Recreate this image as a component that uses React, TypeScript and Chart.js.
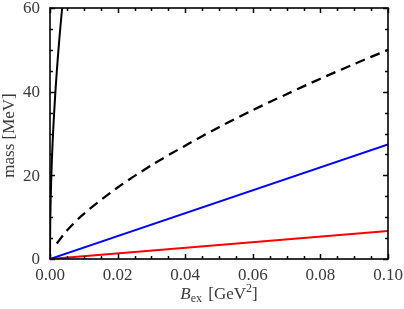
import React, { useEffect, useRef } from "react";
import { Chart, registerables } from "chart.js";

Chart.register(...registerables);

// Data
const steepX = [0, 0.00005, 0.0001, 0.0002, 0.0004, 0.0007, 0.001, 0.0015, 0.002, 0.0025, 0.003, 0.0036, 0.004];
const steepY = [0, 7.1, 10, 14.1, 20, 26.5, 31.6, 38.7, 44.7, 50, 54.8, 60, 63.2];

const dashedX = [0.002, 0.005, 0.01, 0.02, 0.03, 0.04, 0.05, 0.06, 0.07, 0.08, 0.09, 0.1];
const dashedY = [3.7, 6.8, 10.8, 17.1, 22.4, 27.1, 31.5, 35.6, 39.4, 43.1, 46.6, 50];

const blueX = [0, 0.1];
const blueY = [0, 27.4];

const redX = [0, 0.1];
const redY = [0, 6.7];

const xTickLabels = ["0.00", "0.02", "0.04", "0.06", "0.08", "0.10"];
const yTickLabels = ["0", "20", "40", "60"];

const FONT = "'Liberation Serif', 'DejaVu Serif', serif";

const pts = (xs: number[], ys: number[]) => xs.map((x, i) => ({ x, y: ys[i] }));

const framePlugin = {
  id: "frameTicks",
  afterDraw(chart: any) {
    const { ctx, chartArea: a, scales } = chart;
    const xs = scales.x;
    const ys = scales.y;
    ctx.save();
    ctx.strokeStyle = "#000";
    ctx.lineWidth = 1.5;
    ctx.beginPath();
    for (let i = 0; i <= 20; i++) {
      const v = i * 0.005;
      const px = Math.round(xs.getPixelForValue(v)) + 0.5;
      const len = i % 4 === 0 ? 5 : 3;
      ctx.moveTo(px, a.bottom);
      ctx.lineTo(px, a.bottom - len);
      ctx.moveTo(px, a.top);
      ctx.lineTo(px, a.top + len);
    }
    for (let i = 0; i <= 12; i++) {
      const v = i * 5;
      const py = Math.round(ys.getPixelForValue(v)) + 0.5;
      const len = i % 4 === 0 ? 5 : 3;
      ctx.moveTo(a.left, py);
      ctx.lineTo(a.left + len, py);
      ctx.moveTo(a.right, py);
      ctx.lineTo(a.right - len, py);
    }
    ctx.stroke();
    ctx.lineWidth = 1.6;
    ctx.strokeRect(a.left, a.top, a.right - a.left, a.bottom - a.top);

    // tick labels
    ctx.fillStyle = "#3a3a3a";
    ctx.font = `17px ${FONT}`;
    ctx.textAlign = "center";
    ctx.textBaseline = "middle";
    xTickLabels.forEach((t) => {
      const px = xs.getPixelForValue(parseFloat(t));
      ctx.fillText(t, px, 276);
    });
    ctx.textAlign = "right";
    yTickLabels.forEach((t) => {
      const py = ys.getPixelForValue(parseFloat(t));
      ctx.fillText(t, a.left - 10, py + 1);
    });

    // y title
    ctx.save();
    ctx.translate(10, (a.top + a.bottom) / 2 + 2);
    ctx.rotate(-Math.PI / 2);
    ctx.textAlign = "center";
    ctx.fillText("mass [MeV]", 0, 0);
    ctx.restore();

    // x title: B_ex [GeV^2]
    ctx.textBaseline = "alphabetic";
    ctx.textAlign = "left";
    const base = 299;
    const partB = "B";
    const partSub = "ex";
    const partMid = " [GeV";
    const partSup = "2";
    const partEnd = "]";
    ctx.font = `italic 17px ${FONT}`;
    const wB = ctx.measureText(partB).width;
    ctx.font = `12px ${FONT}`;
    const wSub = ctx.measureText(partSub).width;
    const wSup = ctx.measureText(partSup).width;
    ctx.font = `17px ${FONT}`;
    const wMid = ctx.measureText(partMid).width;
    const wEnd = ctx.measureText(partEnd).width;
    const total = wB + wSub + 2 + wMid + wSup + wEnd;
    let x = (a.left + a.right) / 2 - total / 2;
    ctx.font = `italic 17px ${FONT}`;
    ctx.fillText(partB, x, base);
    x += wB;
    ctx.font = `12px ${FONT}`;
    ctx.fillText(partSub, x, base + 3);
    x += wSub + 2;
    ctx.font = `17px ${FONT}`;
    ctx.fillText(partMid, x, base);
    x += wMid;
    ctx.font = `12px ${FONT}`;
    ctx.fillText(partSup, x, base - 7);
    x += wSup;
    ctx.font = `17px ${FONT}`;
    ctx.fillText(partEnd, x, base);
    ctx.restore();
  },
};

export default function App() {
  const ref = useRef<HTMLCanvasElement>(null);
  useEffect(() => {
    document.body.style.margin = "0";
    const canvas = ref.current!;
    const chart = new Chart(canvas, {
      type: "line",
      data: {
        datasets: [
          { data: pts(steepX, steepY), borderColor: "#000", borderWidth: 2, pointRadius: 0, tension: 0.3 },
          { data: pts(dashedX, dashedY), borderColor: "#000", borderWidth: 2.3, borderDash: [10, 6], pointRadius: 0, tension: 0.3 },
          { data: pts(blueX, blueY), borderColor: "#0000ff", borderWidth: 2, pointRadius: 0 },
          { data: pts(redX, redY), borderColor: "#ff0000", borderWidth: 2, pointRadius: 0 },
        ],
      },
      options: {
        animation: false,
        responsive: false,
        maintainAspectRatio: false,
        layout: { padding: { top: 8, right: 16, left: 0, bottom: 0 } },
        plugins: { legend: { display: false }, tooltip: { enabled: false } },
        scales: {
          x: {
            type: "linear",
            min: 0,
            max: 0.1,
            grid: { display: false },
            border: { display: false },
            ticks: { display: false },
            afterFit: (s: any) => { s.height = 50; },
          },
          y: {
            type: "linear",
            min: 0,
            max: 60,
            grid: { display: false },
            border: { display: false },
            ticks: { display: false },
            afterFit: (s: any) => { s.width = 50; },
          },
        },
      },
      plugins: [framePlugin],
    } as any);
    return () => chart.destroy();
  }, []);
  return <canvas ref={ref} width={404} height={309} style={{ display: "block" }} />;
}
